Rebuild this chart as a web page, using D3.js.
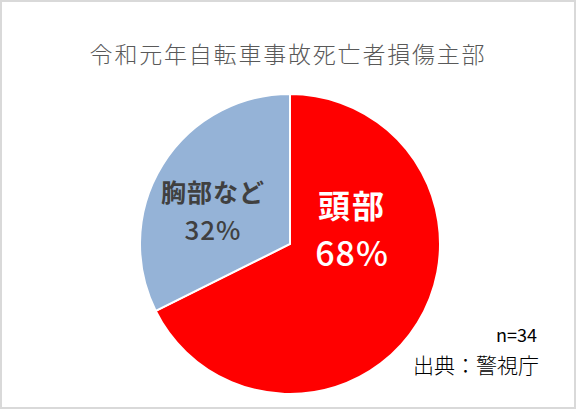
<!DOCTYPE html>
<html>
<head>
<meta charset="utf-8">
<script src="https://cdn.jsdelivr.net/npm/d3@7"></script>
<style>
  body { margin: 0; background: #fff; }
  text { font-family: "Noto Sans CJK JP", "Noto Sans", sans-serif; }
</style>
</head>
<body>
<script>
// data
var categories = ["頭部", "胸部など"];
var counts = [23, 11];             // n=34
var colors = ["#ff0000", "#95b3d7"];
var labelColors = ["#ffffff", "#404040"];

var w = 576, h = 409;
var cx = 290, cy = 244, r = 150;

var svg = d3.select("body").append("svg")
    .attr("width", w)
    .attr("height", h);

svg.append("rect")   // chart area frame
    .attr("x", 1).attr("y", 1)
    .attr("width", w - 2).attr("height", h - 2)
    .style("fill", "#fff")
    .style("stroke", "#d9d9d9")
    .style("stroke-width", 2);

svg.append("text")
    .attr("x", 288).attr("y", 63)
    .attr("text-anchor", "middle")
    .style("font-size", "23px")
    .style("font-weight", 300)
    .style("letter-spacing", "1.8px")
    .style("fill", "#595959")
    .text("令和元年自転車事故死亡者損傷主部");

var total = d3.sum(counts);
var pie = d3.pie().sort(null).value(function(d){ return d; });
var arc = d3.arc().innerRadius(0).outerRadius(r);

var g = svg.append("g").attr("transform", "translate(" + cx + "," + cy + ")");

g.selectAll(".slice")
    .data(pie(counts))
    .enter()
    .append("path")
    .attr("class", "slice")
    .attr("d", arc)
    .style("fill", function(d, i){ return colors[i]; })
    .style("stroke", "#fff")
    .style("stroke-width", 2);

// label placement (offsets from pie centre)
var labelPos = [
    { x: 62, y1: -26, y2: 22, s1: 32, s2: 34, ls: "2px" },
    { x: -77, y1: -42, y2: -4, s1: 25, s2: 26, ls: "1px" }
];

var labels = g.selectAll(".labels")
    .data(counts)
    .enter()
    .append("text")
    .attr("class", "labels")
    .style("fill", function(d, i){ return labelColors[i]; });

labels.append("tspan")
    .attr("x", function(d, i){ return labelPos[i].x; })
    .attr("y", function(d, i){ return labelPos[i].y1; })
    .attr("text-anchor", "middle")
    .style("font-size", function(d, i){ return labelPos[i].s1 + "px"; })
    .style("font-weight", "bold")
    .style("letter-spacing", function(d, i){ return labelPos[i].ls; })
    .text(function(d, i){ return categories[i]; });

labels.append("tspan")
    .attr("x", function(d, i){ return labelPos[i].x; })
    .attr("y", function(d, i){ return labelPos[i].y2; })
    .attr("text-anchor", "middle")
    .style("font-size", function(d, i){ return labelPos[i].s2 + "px"; })
    .style("font-weight", 500)
    .style("letter-spacing", "1px")
    .text(function(d){ return Math.round(d / total * 100) + "%"; });

svg.append("text")
    .attr("x", 537).attr("y", 342)
    .attr("text-anchor", "end")
    .style("font-size", "18px")
    .style("fill", "#000")
    .text("n=" + total);

svg.append("text")
    .attr("x", 539).attr("y", 373)
    .attr("text-anchor", "end")
    .style("font-size", "21px")
    .style("font-weight", 300)
    .style("fill", "#000")
    .text("出典：警視庁");
</script>
</body>
</html>
